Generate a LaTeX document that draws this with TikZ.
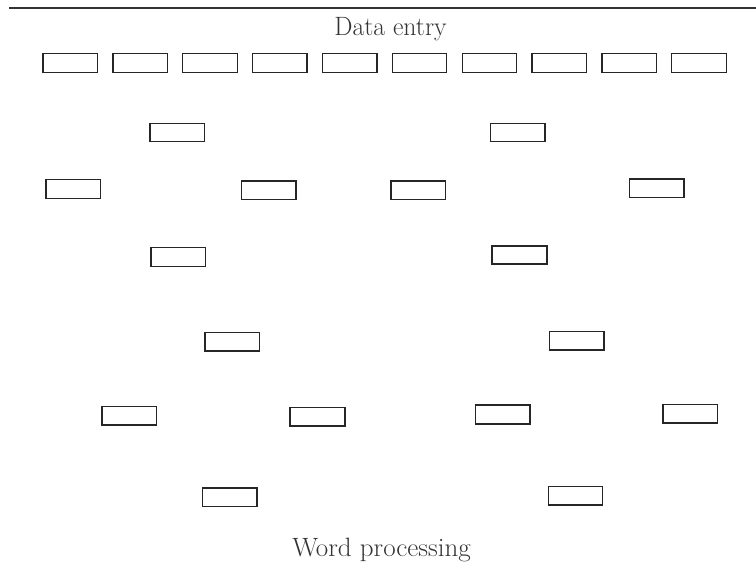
\documentclass[tikz,border=0pt]{standalone}
\begin{document}
\begin{tikzpicture}[x=1pt,y=-1pt,
  slot/.style={draw=black!85,line width=1.3pt,rectangle,inner sep=0pt,
               minimum width=54.5pt,minimum height=18.5pt},
  heavy/.style={slot,line width=1.8pt},
  caption/.style={text=black!80,font=\fontsize{26.5}{30}\selectfont,anchor=base,inner sep=0pt}]
\useasboundingbox (0,0) rectangle (756,569);

% rule across the top
\coordinate (ruleL) at (9,8);
\coordinate (ruleR) at (756,8);
\draw[black!80,line width=1.1pt] (ruleL) -- (ruleR);

% headings
\node[caption,xscale=0.97] (top) at (390.5,35.5) {Data entry};
\node[caption,xscale=1.02] (bottom) at (381.5,557) {Word processing};

% data entry row
\foreach \i in {1,...,10}
  \node[slot] (de\i) at ({70.3+69.85*(\i-1)},63) {};

% left group
\node[slot]  (w1) at (177.3,132.5) {};
\node[slot]  (w2) at (73.3,189) {};
\node[slot]  (w3) at (268.7,190.3) {};
\node[slot]  (w4) at (178.2,257) {};

% right group
\node[slot]  (w5) at (517.7,132.5) {};
\node[slot]  (w6) at (418.2,190.2) {};
\node[heavy] (w7) at (656.8,188.3) {};
\node[heavy] (w8) at (519.5,255) {};

% lower left group
\node[slot]  (w9)  at (232.3,341.8) {};
\node[slot]  (w10) at (129.3,415.7) {};
\node[heavy] (w11) at (317.5,416.8) {};
\node[slot]  (w12) at (229.8,497.3) {};

% lower right group
\node[slot]  (w13) at (576.8,340.7) {};
\node[heavy] (w14) at (502.7,414.5) {};
\node[slot]  (w15) at (690.2,413.7) {};
\node[slot]  (w16) at (575.5,495.8) {};
\end{tikzpicture}
\end{document}
